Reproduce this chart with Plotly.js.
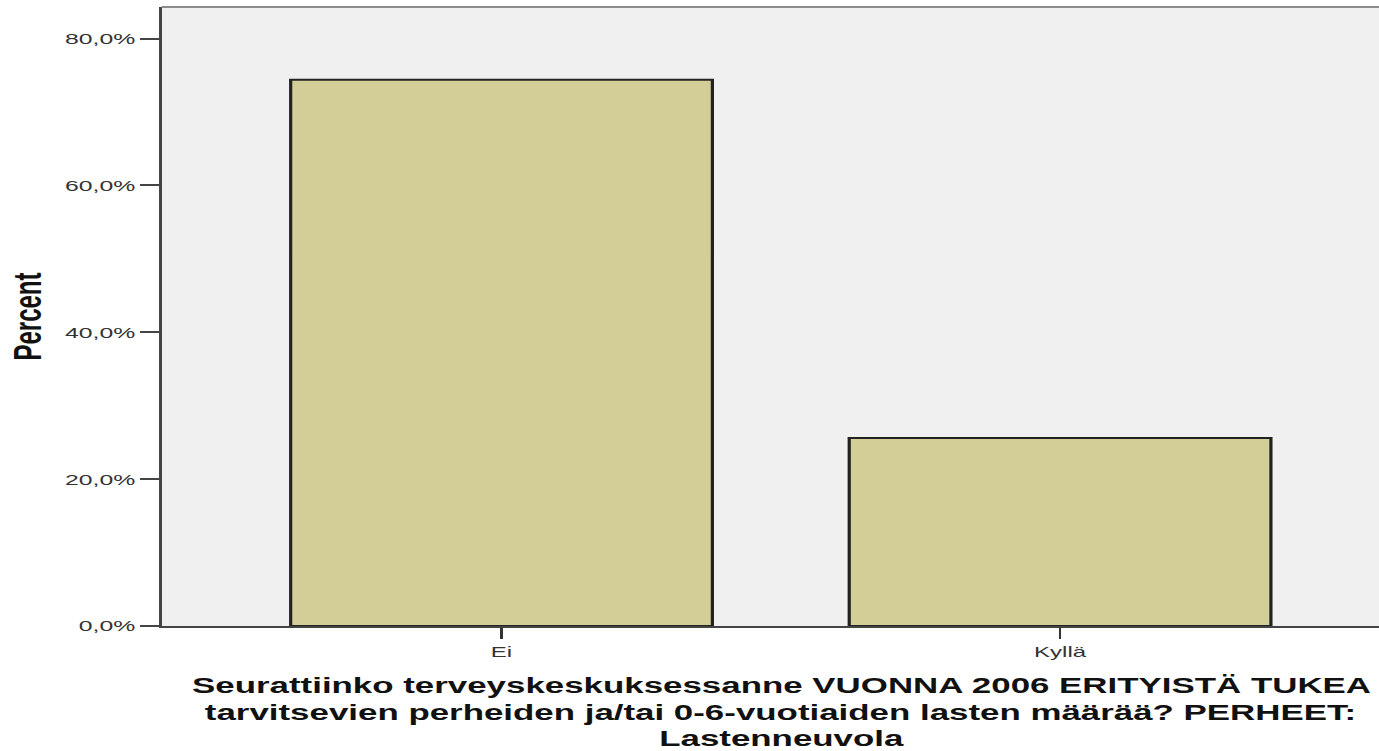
<!DOCTYPE html>
<html>
<head>
<meta charset="utf-8">
<script src="https://cdn.plot.ly/plotly-3.0.1.min.js"></script>
<style>
  html, body { margin: 0; padding: 0; overflow: hidden; background: #ffffff; width: 1379px; height: 751px; }
  #wrap { transform: scaleX(1.6); transform-origin: 0 0; width: 875px; height: 751px; }
</style>
</head>
<body>
<div id="wrap"><div id="chart"></div></div>
<script>
const categories = ['Ei', 'Kyllä'];
const percents = [74.4, 25.6];
const xTitleLines = [
  'Seurattiinko terveyskeskuksessanne VUONNA 2006 ERITYISTÄ TUKEA',
  'tarvitsevien perheiden ja/tai 0-6-vuotiaiden lasten määrää? PERHEET:',
  'Lastenneuvola'
];
const yTitle = 'Percent';

const FONT = 'Liberation Sans, Arial, sans-serif';

const data = [{
  type: 'bar',
  x: categories,
  y: percents,
  marker: { color: '#d3ce98', line: { color: '#222222', width: 2 } },
  hoverinfo: 'x+y'
}];

const TITLE_TOP = -46;
const TITLE_STEP = 26.5;

const layout = {
  width: 875,
  height: 751,
  margin: { l: 101, r: 0, t: 7, b: 125, pad: 0 },
  paper_bgcolor: '#ffffff',
  plot_bgcolor: '#f0f0f0',
  separators: ', ',
  showlegend: false,
  bargap: 0.245,
  font: { family: FONT, color: '#222' },
  xaxis: {
    type: 'category',
    range: [-0.6086, 1.6086],
    showline: true, linecolor: '#444', linewidth: 2,
    ticks: 'outside', ticklen: 11, tickwidth: 1.6, tickcolor: '#333',
    tickfont: { family: FONT, size: 15, color: '#333' },
    showgrid: false, zeroline: false
  },
  yaxis: {
    range: [0, 84.3],
    dtick: 20, tick0: 0,
    tickformat: '.1f', ticksuffix: '%',
    showline: true, linecolor: '#444', linewidth: 1.4,
    ticks: 'outside', ticklen: 12, tickwidth: 2, tickcolor: '#444',
    tickfont: { family: FONT, size: 15.5, color: '#333' },
    showgrid: false, zeroline: false,
    title: { text: yTitle, font: { family: FONT, size: 24, color: '#111', weight: 'bold' }, standoff: 7 }
  },
  annotations: xTitleLines.map((line, i) => ({
    text: line, xref: 'paper', yref: 'paper', x: 0.5, y: 0,
    xanchor: 'center', yanchor: 'top', yshift: TITLE_TOP - i * TITLE_STEP,
    showarrow: false, align: 'center', borderpad: 0,
    font: { family: FONT, size: 21.8, color: '#111', weight: 'bold' }
  })),
  shapes: [{
    type: 'line', xref: 'paper', yref: 'paper', x0: 0, x1: 1, y0: 1, y1: 1,
    line: { color: '#8c8c8c', width: 2 }
  }]
};

Plotly.newPlot('chart', data, layout, { displayModeBar: false, staticPlot: true });
</script>
</body>
</html>
